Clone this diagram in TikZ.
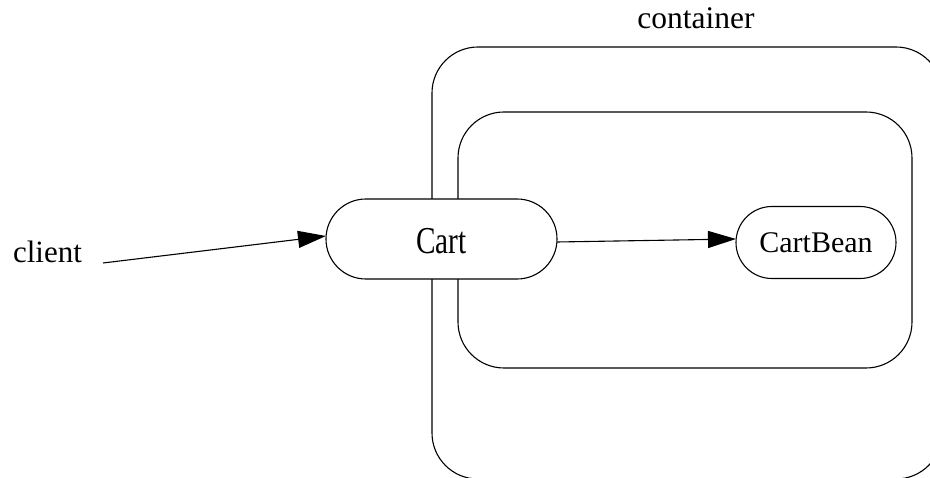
\documentclass[tikz,border=0pt]{standalone}
\usepackage{fontspec}
\setmainfont{Liberation Serif}
\usetikzlibrary{arrows.meta}
\begin{document}
\begin{tikzpicture}[x=1pt,y=-1pt,
  every node/.style={inner sep=0pt, outer sep=0pt},
  cluster/.style={draw=black, line width=1.1pt, rounded corners=46pt, rectangle},
  stadium/.style={draw=black, line width=1.1pt, rectangle},
  lbl/.style={font=\fontsize{31}{31}\selectfont},
  arr/.style={draw=black, line width=1.1pt, -{Triangle[length=28pt,width=17pt]}}]
\useasboundingbox (0,0) rectangle (930,478);
\clip (0,0) rectangle (930,478);
\node[cluster, minimum width=510pt, minimum height=432pt] (outer) at (687,263) {};
\node[cluster, minimum width=454pt, minimum height=256pt] (inner) at (685,240) {};
\node[anchor=base, font=\fontsize{31.5}{31.5}\selectfont] (containerlbl) at (696,29) {container};
\node[stadium, fill=white, rounded corners=39.9pt, minimum width=231pt, minimum height=80pt] (cart) at (441.5,239) {};
\node[font=\fontsize{38}{38}\selectfont] (carttext) at (441.5,241) {\scalebox{0.77}[1]{Cart}};
\node[stadium, fill=white, rounded corners=35.9pt, minimum width=160pt, minimum height=72pt, font=\fontsize{30}{30}\selectfont] (cartbean) at (816,242.5) {CartBean};
\node[lbl, anchor=base] (client) at (47.5,263) {client};
\coordinate (cstart) at (103,263);
\draw[arr] (cstart) -- ([yshift=3pt]cart.west);
\draw[arr] ([yshift=-3pt]cart.east) -- ([yshift=3.5pt]cartbean.west);
\end{tikzpicture}
\end{document}
